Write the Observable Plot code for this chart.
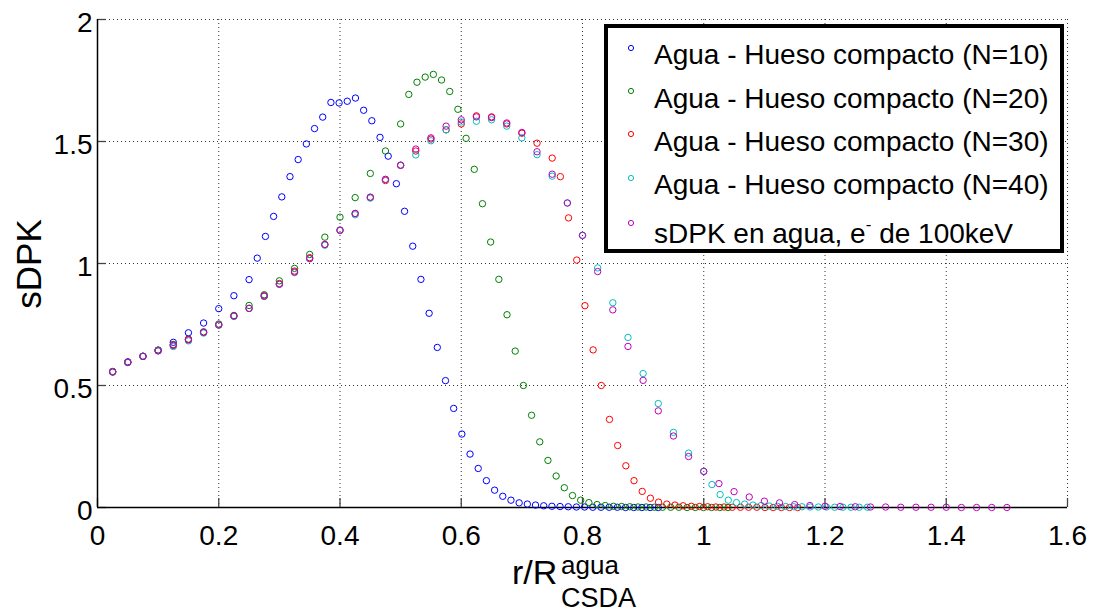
<!DOCTYPE html>
<html>
<head>
<meta charset="utf-8">
<script src="https://cdn.jsdelivr.net/npm/d3@7"></script>
<script src="https://cdn.jsdelivr.net/npm/@observablehq/plot@0.6"></script>
<style>
  html, body { margin: 0; padding: 0; background: #fff; }
  #chart { width: 1095px; height: 613px; }
</style>
</head>
<body>
<div id="chart"></div>
<script>
// ---- tick values ----
const xTicks = [0, 0.2, 0.4, 0.6, 0.8, 1, 1.2, 1.4, 1.6];
const yTicks = [0, 0.5, 1, 1.5, 2];

// ---- x positions: water bins (0.025) and bone bins (finer) ----
const xWater = [0.025, 0.05, 0.075, 0.1, 0.125, 0.15, 0.175, 0.2, 0.225, 0.25,
  0.275, 0.3, 0.325, 0.35, 0.375, 0.4, 0.425, 0.45, 0.475, 0.5,
  0.525, 0.55, 0.575, 0.6, 0.625, 0.65, 0.675, 0.7, 0.725, 0.75,
  0.775, 0.8, 0.825, 0.85, 0.875, 0.9, 0.925, 0.95, 0.975, 1.0,
  1.025, 1.05, 1.075, 1.1, 1.125, 1.15, 1.175, 1.2, 1.225, 1.25,
  1.275, 1.3, 1.325, 1.35, 1.375, 1.4, 1.425, 1.45, 1.475, 1.5];
const xBone10 = [0.2635, 0.277, 0.2905, 0.304, 0.3175, 0.331, 0.3445, 0.358, 0.3715, 0.385,
  0.3985, 0.412, 0.4255, 0.439, 0.4525, 0.466, 0.4795, 0.493, 0.5065, 0.52,
  0.5335, 0.547, 0.5605, 0.574, 0.5875, 0.601, 0.6145, 0.628, 0.6415, 0.655,
  0.6685, 0.682, 0.6955, 0.709, 0.7225, 0.736, 0.7495, 0.763, 0.7765, 0.79,
  0.8035, 0.817, 0.8305, 0.844, 0.8575, 0.871, 0.8845, 0.898, 0.9115, 0.925];
const xBone20 = [0.5135, 0.527, 0.5405, 0.554, 0.5675, 0.581, 0.5945, 0.608, 0.6215, 0.635,
  0.6485, 0.662, 0.6755, 0.689, 0.7025, 0.716, 0.7295, 0.743, 0.7565, 0.77,
  0.7835, 0.797, 0.8105, 0.824, 0.8375, 0.851, 0.8645, 0.878, 0.8915, 0.905,
  0.9185, 0.932, 0.9455, 0.959, 0.9725, 0.986, 0.9995, 1.013, 1.0265, 1.04];
const xBone30 = [0.7635, 0.777, 0.7905, 0.804, 0.8175, 0.831, 0.8445, 0.858, 0.8715, 0.885,
  0.8985, 0.912, 0.9255, 0.939, 0.9525, 0.966, 0.9795, 0.993, 1.0065, 1.02,
  1.0335, 1.047, 1.0605, 1.074, 1.0875, 1.101, 1.1145, 1.128, 1.1415, 1.155];
const xBone40 = [1.0135, 1.027, 1.0405, 1.054, 1.0675, 1.081, 1.0945, 1.108, 1.1215, 1.135,
  1.1485, 1.162, 1.1755, 1.189, 1.2025, 1.216, 1.2295, 1.243, 1.2565, 1.27];

// ---- sDPK values ----
const yN10 = [0.557, 0.597, 0.62, 0.645, 0.677, 0.716, 0.756, 0.815, 0.868, 0.934,
  1.022, 1.111, 1.193, 1.273, 1.356, 1.426, 1.49, 1.553, 1.60, 1.66,
  1.658, 1.665, 1.678, 1.628, 1.585, 1.517, 1.44, 1.327, 1.214, 1.071,
  0.935, 0.796, 0.656, 0.52, 0.406, 0.301, 0.219, 0.16, 0.11, 0.071,
  0.046, 0.03, 0.019, 0.014, 0.01, 0.007, 0.005, 0.004, 0.003, 0.002,
  0.002, 0.001, 0.001, 0.001, 0.001, 0, 0, 0, 0, 0];
const yN20 = [0.557, 0.595, 0.62, 0.645, 0.668, 0.69, 0.72, 0.752, 0.787, 0.828,
  0.872, 0.929, 0.98, 1.037, 1.108, 1.19, 1.27, 1.369, 1.461, 1.572,
  1.693, 1.743, 1.764, 1.775, 1.752, 1.705, 1.632, 1.513, 1.386, 1.245,
  1.088, 0.935, 0.79, 0.641, 0.5, 0.378, 0.269, 0.193, 0.129, 0.081,
  0.049, 0.03, 0.02, 0.012, 0.008, 0.005, 0.004, 0.003, 0.002, 0.002,
  0.001, 0.001, 0.001, 0.001, 0, 0, 0, 0, 0, 0];
const yN30 = [0.556, 0.595, 0.619, 0.643, 0.666, 0.689, 0.718, 0.748, 0.785, 0.816,
  0.868, 0.918, 0.969, 1.024, 1.078, 1.135, 1.205, 1.271, 1.34, 1.402,
  1.461, 1.51, 1.548, 1.572, 1.605, 1.601, 1.572, 1.534, 1.493, 1.432,
  1.356, 1.187, 1.014, 0.827, 0.646, 0.5, 0.361, 0.254, 0.171, 0.11,
  0.066, 0.038, 0.022, 0.014, 0.01, 0.007, 0.005, 0.004, 0.003, 0.002,
  0.002, 0.001, 0.001, 0.001, 0.001, 0, 0, 0, 0, 0];
const yN40 = [0.555, 0.594, 0.62, 0.642, 0.66, 0.683, 0.715, 0.748, 0.783, 0.816,
  0.865, 0.915, 0.963, 1.02, 1.075, 1.137, 1.2, 1.268, 1.344, 1.403,
  1.445, 1.503, 1.548, 1.58, 1.583, 1.589, 1.563, 1.515, 1.446, 1.358,
  1.248, 1.116, 0.982, 0.839, 0.697, 0.549, 0.426, 0.308, 0.223, 0.148,
  0.094, 0.053, 0.03, 0.02, 0.014, 0.01, 0.008, 0.006, 0.005, 0.004,
  0.003, 0.003, 0.002, 0.002, 0.002, 0.001, 0.001, 0.001, 0.001, 0.001];
const yWater = [0.555, 0.595, 0.619, 0.642, 0.664, 0.687, 0.718, 0.748, 0.785, 0.816,
  0.866, 0.915, 0.965, 1.02, 1.078, 1.137, 1.205, 1.272, 1.345, 1.403,
  1.469, 1.515, 1.563, 1.589, 1.601, 1.598, 1.576, 1.537, 1.458, 1.366,
  1.248, 1.115, 0.967, 0.81, 0.66, 0.521, 0.396, 0.293, 0.209, 0.148,
  0.098, 0.065, 0.043, 0.026, 0.019, 0.012, 0.008, 0.005, 0.004, 0.003,
  0.002, 0.002, 0.001, 0.001, 0.001, 0.001, 0, 0, 0, 0];

const seriesNames = [
  "Agua - Hueso compacto (N=10)",
  "Agua - Hueso compacto (N=20)",
  "Agua - Hueso compacto (N=30)",
  "Agua - Hueso compacto (N=40)",
  "sDPK en agua, e- de 100keV"
];
const seriesColors = ["#0000ff", "#008000", "#ff0000", "#00bfbf", "#bf00bf"];

// ---- build tables ----
const zip = (xs, ys) => xs.map((x, i) => ({x, y: ys[i]}));
const tables = [
  zip(xWater.slice(0, 10).concat(xBone10), yN10),
  zip(xWater.slice(0, 20).concat(xBone20), yN20),
  zip(xWater.slice(0, 30).concat(xBone30), yN30),
  zip(xWater.slice(0, 40).concat(xBone40), yN40),
  zip(xWater, yWater)
];

const font = "'Liberation Sans', Arial, Helvetica, sans-serif";
const fmt = d => String(d);

const plot = Plot.plot({
  width: 1095,
  height: 613,
  marginLeft: 97,
  marginRight: 28,
  marginTop: 19,
  marginBottom: 106,
  style: {fontFamily: font, background: "#fff", color: "#000"},
  x: {domain: [0, 1.6]},
  y: {domain: [0, 2]},
  marks: [
    Plot.gridX(xTicks, {stroke: "#000", strokeOpacity: 0.8, strokeDasharray: "1,3"}),
    Plot.gridY(yTicks, {stroke: "#000", strokeOpacity: 0.8, strokeDasharray: "1,3"}),
    Plot.ruleX(xTicks, {stroke: "#444", strokeWidth: 1.3, insetTop: 479}),
    Plot.ruleY(yTicks, {stroke: "#444", strokeWidth: 1.3, insetRight: 961}),
    Plot.ruleX([0], {stroke: "#000", strokeWidth: 1.5}),
    Plot.ruleY([0], {stroke: "#000", strokeWidth: 1.5}),
    Plot.axisX(xTicks, {tickSize: 0, tickPadding: 18, fontSize: 28, label: null, tickFormat: fmt}),
    Plot.axisY(yTicks, {tickSize: 0, tickPadding: 5, fontSize: 28, dy: 4, label: null, tickFormat: fmt}),
    ...tables.map((t, i) => Plot.dot(t, {x: "x", y: "y", r: 3.2, stroke: seriesColors[i], fill: "none", strokeWidth: 1}))
  ]
});

document.getElementById("chart").appendChild(plot);

// ---- axis titles and legend ----
const svg = d3.select(plot);

svg.append("text")
  .attr("transform", "translate(41,264) rotate(-90)")
  .attr("text-anchor", "middle")
  .attr("font-family", font)
  .attr("font-size", 35)
  .attr("fill", "#000")
  .text("sDPK");

const xl = svg.append("text")
  .attr("text-anchor", "start")
  .attr("font-family", font)
  .attr("fill", "#000");
xl.append("tspan").attr("x", 512).attr("y", 584).attr("font-size", 34).text("r/R");
xl.append("tspan").attr("x", 561).attr("y", 574).attr("font-size", 26).text("agua");
xl.append("tspan").attr("x", 561).attr("y", 607).attr("font-size", 27).text("CSDA");

const lg = svg.append("g").attr("text-anchor", "start");
lg.append("rect")
  .attr("x", 606).attr("y", 26).attr("width", 456).attr("height", 225)
  .style("fill", "#fff").attr("stroke", "#000").attr("stroke-width", 4);
const rowText = [64, 107.5, 151, 194, 242.5];
const rowMark = [48, 91, 134, 178, 223];
seriesNames.forEach((name, i) => {
  lg.append("circle")
    .attr("cx", 631).attr("cy", rowMark[i]).attr("r", 2.6)
    .attr("fill", "none").attr("stroke", seriesColors[i]).attr("stroke-width", 1);
  const t = lg.append("text")
    .attr("x", 654).attr("y", rowText[i])
    .attr("text-anchor", "start")
    .attr("font-family", font).attr("font-size", 28).attr("fill", "#000");
  if (i < 4) {
    t.text(name);
  } else {
    t.append("tspan").text("sDPK en agua, e");
    t.append("tspan").attr("font-size", 17).attr("dy", -13).text("-");
    t.append("tspan").attr("dy", 13).text(" de 100keV");
  }
});
</script>
</body>
</html>
